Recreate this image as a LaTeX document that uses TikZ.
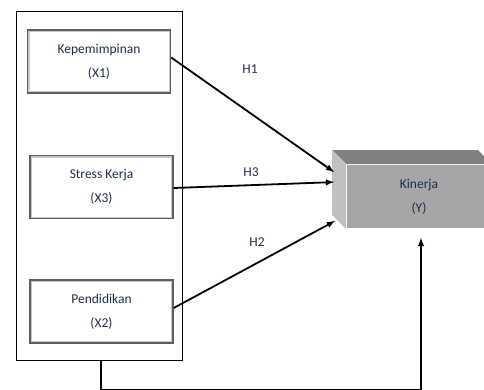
\documentclass[tikz,border=0pt]{standalone}
\usepackage{fontspec}
\setmainfont{Carlito}
\usepackage{xcolor}
\usetikzlibrary{arrows,positioning,calc}
\definecolor{navytext}{RGB}{31,45,77}
\definecolor{boxedge}{RGB}{95,95,95}
\definecolor{facefront}{RGB}{166,166,166}
\definecolor{facetop}{RGB}{128,128,128}
\definecolor{faceside}{RGB}{192,192,192}

\begin{document}
\begin{tikzpicture}[x=1pt, y=1pt, >=latex, line width=1.8pt, font=\fontsize{13.5}{16}\selectfont,
var node/.style={rectangle,draw=boxedge,line width=1.4pt,fill=white,minimum width=143pt,minimum height=63pt,inner sep=0pt,align=center,text=navytext,
  path picture={\draw[gray!45,line width=4pt] (path picture bounding box.south west) rectangle (path picture bounding box.north east);}},
group box/.style={rectangle,draw=black,line width=0.9pt,minimum width=166pt,minimum height=349pt,inner sep=0pt},
dep node/.style={rectangle,fill=facefront,minimum width=144pt,minimum height=63pt,inner sep=0pt,align=center,text=navytext},
hyp/.style={text=navytext,inner sep=1pt}]
\useasboundingbox (0,0) rectangle (484,389);
\clip (0,0) rectangle (484,389);
% variables
\begin{scope}
\node[group box] (grp) at (99,203.5) {};
\node[var node] (x1) at (99,327.5) {Kepemimpinan\\[8pt](X1)};
\node[var node] (x3) at (101.5,202) {Stress Kerja\\[8pt](X3)};
\node[var node] (x2) at (101.5,77.5) {Pendidikan\\[8pt](X2)};
\node[dep node] (y) at (419,192.5) {Kinerja\\[8pt](Y)};
\end{scope}
% 3d faces of kinerja
\fill[facetop] (y.north west) -- (y.north east) -- ([shift={(-14,14)}]y.north east) -- ([shift={(-14,14)}]y.north west) -- cycle;
\fill[faceside] (y.north west) -- (y.south west) -- ([shift={(-14,14)}]y.south west) -- ([shift={(-14,14)}]y.north west) -- cycle;
\coordinate (t1) at ($(y.north west)+(-12,-8)$);
\coordinate (t3) at ($(y.north west)+(-12,-18)$);
\coordinate (t2) at ($(y.south west)+(-11,8)$);
\coordinate (bl) at ([xshift=2pt]grp.south |- 0,-0.5);
\coordinate (br) at ([xshift=2pt]y.south |- 0,-0.5);
% hypotheses
\begin{scope}
\draw ([yshift=4pt]x1.east) edge[->] node{} (t1);
\draw ([yshift=-1pt]x3.east) edge[->] node{} (t3);
\draw ([yshift=3.5pt]x2.east) edge[->] node{} (t2);
\draw ([xshift=2pt]grp.south) -- (bl) -- (br);
\draw[->] (br) -- ([xshift=2pt,yshift=-9pt]y.south);
\node[hyp] (h1) at (250,320) {H1};
\node[hyp] (h3) at (251,217) {H3};
\node[hyp] (h2) at (257,147) {H2};
\end{scope}
\end{tikzpicture}
\end{document}
